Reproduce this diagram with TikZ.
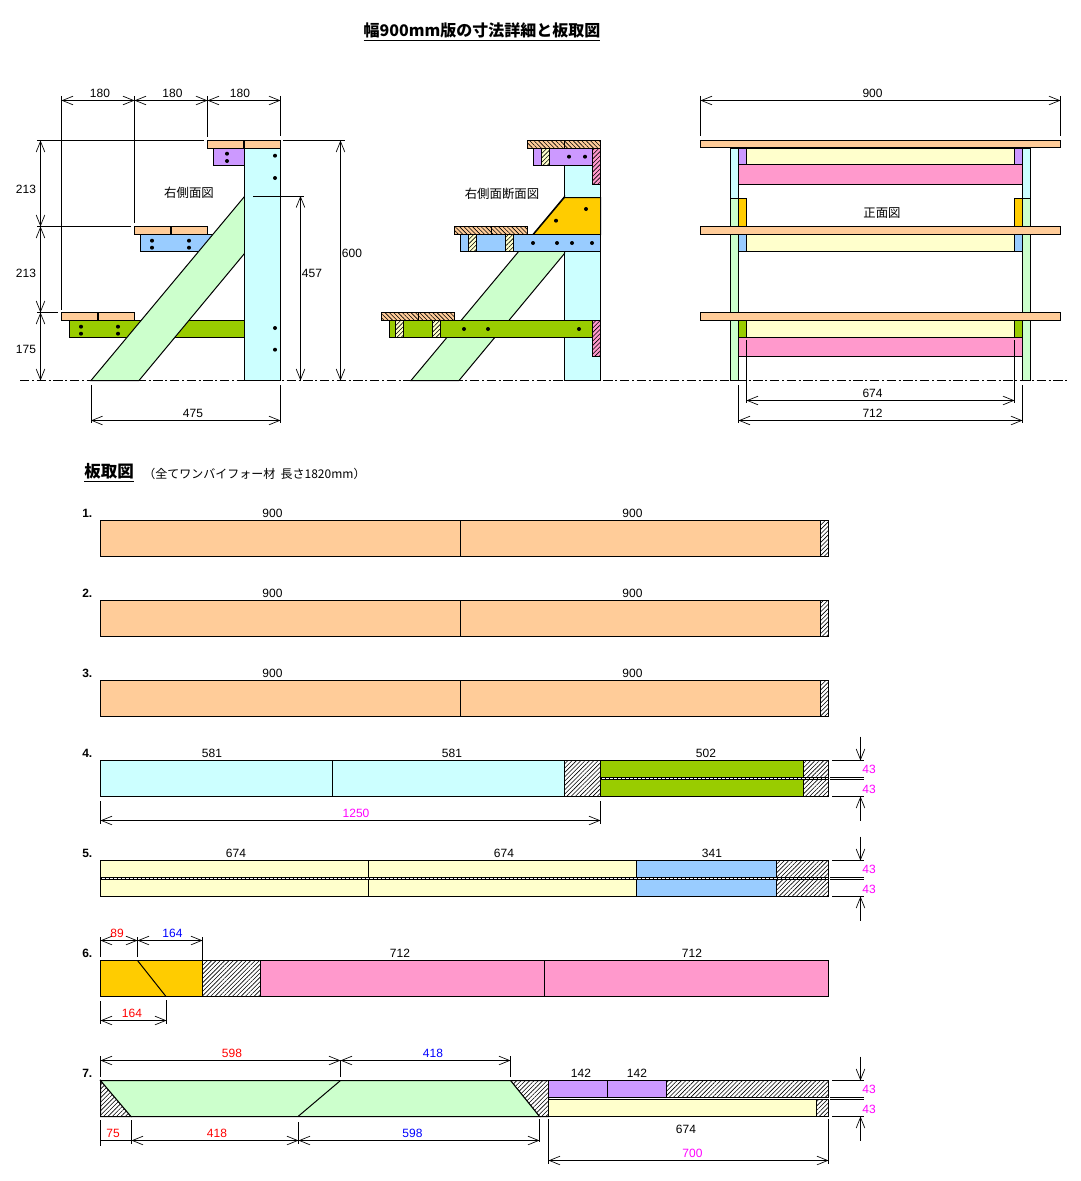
\documentclass[tikz,border=0pt]{standalone}
\usepackage{fontspec}
\setmainfont{Liberation Sans}
\newfontfamily\jpfont{Noto Sans CJK JP}
\usetikzlibrary{arrows.meta,patterns.meta}
\definecolor{woodtread}{HTML}{FFCC99}
\definecolor{woodpost}{HTML}{CCFFFF}
\definecolor{woodstring}{HTML}{CCFFCC}
\definecolor{woodtop}{HTML}{CC99FF}
\definecolor{woodmid}{HTML}{99CCFF}
\definecolor{woodlow}{HTML}{99CC00}
\definecolor{woodback}{HTML}{FF99CC}
\definecolor{woodslat}{HTML}{FFFFCC}
\definecolor{woodgusset}{HTML}{FFCC00}
\definecolor{dimmagenta}{HTML}{FF00FF}
\definecolor{dimred}{HTML}{FF0000}
\definecolor{dimblue}{HTML}{0000FF}
\tikzset{
	dimline/.style={line width=0.75pt, {Straight Barb[length=8pt,width=6.5pt,line width=0.5pt]}-{Straight Barb[length=8pt,width=6.5pt,line width=0.5pt]}},
	dimend/.style={line width=0.75pt, -{Straight Barb[length=8pt,width=6.5pt,line width=0.5pt]}},
	extline/.style={line width=0.75pt},
	centerline/.style={line width=0.75pt, dash pattern=on 7pt off 2pt on 1.5pt off 2pt},
	part/.style={draw=black, line width=0.75pt},
	waste/.style={draw=black, line width=0.75pt, fill=white, postaction={pattern={Lines[angle=45,distance=2.3pt,line width=0.45pt]}}},
	cuttread/.style={draw=black, line width=0.75pt, fill=woodtread, postaction={pattern={Lines[angle=-45,distance=2.3pt,line width=0.45pt]}}},
	cutslat/.style={draw=black, line width=0.75pt, fill=woodslat, postaction={pattern={Lines[angle=45,distance=2.3pt,line width=0.45pt]}}},
	cutback/.style={draw=black, line width=0.75pt, fill=woodback, postaction={pattern={Lines[angle=45,distance=2.3pt,line width=0.45pt]}}},
	num/.style={inner sep=0pt, font=\fontsize{9}{10}\selectfont},
	jplabel/.style={inner sep=0pt, font=\jpfont\fontsize{9.3}{10}\selectfont},
	rowno/.style={inner sep=0pt, anchor=west, font=\bfseries\fontsize{9}{10}\selectfont},
}
\def\bolt(#1,#2){\fill (#1,#2) circle (1.5pt);}
\def\kerf(#1,#2,#3){\draw[part, fill=white] (#1,#2) rectangle (#3,#2+2);\draw[line width=0.75pt, dash pattern=on 0.75pt off 2.25pt] (#1,#2+1) -- (#3,#2+1);}
\def\thickdim(#1,#2){%
	\draw[extline] (832,#1) -- (864,#1);
	\draw[extline] (830,#1+17) -- (864,#1+17);
	\draw[extline] (830,#1+19) -- (864,#1+19);
	\draw[extline] (832,#1+36) -- (864,#1+36);
	\draw[dimend] (860.5,#1-24) -- (860.5,#1);
	\draw[dimend] (860.5,#2) -- (860.5,#1+36);
	\node[num, text=dimmagenta] (up#1) at (869,#1+9) {43};
	\node[num, text=dimmagenta] (lo#1) at (869,#1+29) {43};
}

\begin{document}
\begin{tikzpicture}[x=0.75pt, y=-0.75pt]
	%%%%% START %%%%%
	\useasboundingbox (0,0) rectangle (1081,1181);
	
	\node[inner sep=0pt, font=\jpfont\bfseries\fontsize{12}{14}\selectfont] (title) at (482,32) {\underline{幅900mm版の寸法詳細と板取図}};
	
	\draw[centerline] (20,380.5) -- (1069,380.5);
	
	% right side view
	\draw[part, fill=woodlow] (69,320.5) rectangle (244.5,337.5);
	\draw[part, fill=woodmid] (140.5,234.5) rectangle (215,251.5);
	\draw[part, fill=woodtop] (213.5,148.5) rectangle (244.5,165.5);
	\draw[part, fill=woodstring] (91,380.5) -- (244.5,196.5) -- (244.5,253.5) -- (139,380.5) -- cycle;
	\draw[part, fill=woodpost] (244.5,148.5) rectangle (280.5,380.5);
	\draw[part, fill=woodtread] (207.5,140.5) rectangle (280.5,148.5);
	\draw[line width=1.5pt] (244,140.5) -- (244,148.5);
	\draw[part, fill=woodtread] (134.5,226.5) rectangle (207.5,234.5);
	\draw[line width=1.5pt] (171,226.5) -- (171,234.5);
	\draw[part, fill=woodtread] (61.5,312.5) rectangle (134.5,320.5);
	\draw[line width=1.5pt] (98,312.5) -- (98,320.5);
	
	\bolt(275,155.7) \bolt(275,178) \bolt(275,328) \bolt(275,349.7)
	\bolt(227,153.7) \bolt(227,161)
	\bolt(152,240.7) \bolt(152,247.7) \bolt(189,240.7) \bolt(189,247.7)
	\bolt(81,326.7) \bolt(81,333.7) \bolt(118,326.7) \bolt(118,333.7)
	
	\node[jplabel] (sidelabel) at (189,193) {右側面図};
	
	\draw[extline] (61.5,96) -- (61.5,310);
	\draw[extline] (134.5,96) -- (134.5,223);
	\draw[extline] (207.5,96) -- (207.5,137);
	\draw[extline] (280.5,96) -- (280.5,136);
	\draw[dimline] (61.5,100.5) -- (134.5,100.5);
	\draw[dimline] (134.5,100.5) -- (207.5,100.5);
	\draw[dimline] (207.5,100.5) -- (280.5,100.5);
	\node[num] (wa) at (100,93.5) {180};
	\node[num] (wb) at (172.5,93.5) {180};
	\node[num] (wc) at (240,93.5) {180};
	
	\draw[extline] (37,140.5) -- (204,140.5);
	\draw[extline] (283,140.5) -- (345,140.5);
	\draw[extline] (37,226.5) -- (131,226.5);
	\draw[extline] (37,312.5) -- (58,312.5);
	\draw[dimline] (40.5,140.5) -- (40.5,226.5);
	\draw[dimline] (40.5,226.5) -- (40.5,312.5);
	\draw[dimline] (40.5,312.5) -- (40.5,380.5);
	\node[num] (ha) at (26,189.5) {213};
	\node[num] (hb) at (26,273.5) {213};
	\node[num] (hc) at (26,349.5) {175};
	
	\draw[extline] (253,196) -- (304,196);
	\draw[dimline] (300.5,196) -- (300.5,380.5);
	\node[num] (hd) at (312,273.5) {457};
	\draw[dimline] (340.5,140.5) -- (340.5,380.5);
	\node[num] (he) at (352,253.5) {600};
	
	\draw[extline] (91,385) -- (91,423);
	\draw[extline] (280.5,385) -- (280.5,423);
	\draw[dimline] (91,420.5) -- (280.5,420.5);
	\node[num] (wd) at (193,413.5) {475};
	
	% right side section
	\draw[part, fill=woodpost] (564.5,165.5) rectangle (600.5,380.5);
	\draw[part, fill=woodstring] (411,380.5) -- (564.5,196.5) -- (564.5,253.5) -- (459,380.5) -- cycle;
	\draw[part, fill=woodgusset] (564.5,197.5) -- (600.5,197.5) -- (600.5,234.5) -- (533.5,234.5) -- cycle;
	\draw[part, fill=woodtop] (533.5,148.5) rectangle (592.5,165.5);
	\draw[cutslat] (541.5,148.5) rectangle (549.5,165.5);
	\draw[cutback] (592.5,148.5) rectangle (600.5,184.5);
	\draw[part, fill=woodmid] (460.5,234.5) rectangle (600.5,251.5);
	\draw[cutslat] (468.5,234.5) rectangle (476.5,251.5);
	\draw[cutslat] (505.5,234.5) rectangle (513.5,251.5);
	\draw[part, fill=woodlow] (389.5,320.5) rectangle (592.5,337.5);
	\draw[cutslat] (395.5,320.5) rectangle (403.5,337.5);
	\draw[cutslat] (432.5,320.5) rectangle (440.5,337.5);
	\draw[cutback] (592.5,320.5) rectangle (600.5,356.5);
	\draw[cuttread] (527.5,140.5) rectangle (564,148.5);
	\draw[cuttread] (564,140.5) rectangle (600.5,148.5);
	\draw[cuttread] (454.5,226.5) rectangle (491,234.5);
	\draw[cuttread] (491,226.5) rectangle (527.5,234.5);
	\draw[cuttread] (381.5,312.5) rectangle (418,320.5);
	\draw[cuttread] (418,312.5) rectangle (454.5,320.5);
	
	\bolt(569,156.7) \bolt(585,156.7)
	\bolt(586,209) \bolt(556,220.7)
	\bolt(533,243) \bolt(557,243) \bolt(572,243) \bolt(592,243)
	\bolt(464,329) \bolt(488,329) \bolt(579,329)
	
	\node[jplabel] (seclabel) at (502,193.5) {右側面断面図};
	
	% front view
	\draw[part, fill=woodpost] (730.5,148.5) rectangle (738.5,198.5);
	\draw[part, fill=woodstring] (730.5,198.5) rectangle (738.5,380.5);
	\draw[part, fill=woodpost] (1022.5,148.5) rectangle (1030.5,198.5);
	\draw[part, fill=woodstring] (1022.5,198.5) rectangle (1030.5,380.5);
	\draw[part, fill=woodslat] (746.5,148.5) rectangle (1014.5,164.5);
	\draw[part, fill=woodtop] (738.5,148.5) rectangle (746.5,164.5);
	\draw[part, fill=woodtop] (1014.5,148.5) rectangle (1022.5,164.5);
	\draw[part, fill=woodback] (738.5,164.5) rectangle (1022.5,184.5);
	\draw[part, fill=woodgusset] (738.5,198.5) rectangle (746.5,226.5);
	\draw[part, fill=woodgusset] (1014.5,198.5) rectangle (1022.5,226.5);
	\draw[part, fill=woodslat] (746.5,234.5) rectangle (1014.5,251.5);
	\draw[part, fill=woodmid] (738.5,234.5) rectangle (746.5,251.5);
	\draw[part, fill=woodmid] (1014.5,234.5) rectangle (1022.5,251.5);
	\draw[part, fill=woodslat] (746.5,320.5) rectangle (1014.5,337.5);
	\draw[part, fill=woodlow] (738.5,320.5) rectangle (746.5,337.5);
	\draw[part, fill=woodlow] (1014.5,320.5) rectangle (1022.5,337.5);
	\draw[part, fill=woodback] (738.5,337.5) rectangle (1022.5,356.5);
	\draw[part, fill=woodtread] (700.5,140) rectangle (1060.5,147.5);
	\draw[part, fill=woodtread] (700.5,226.5) rectangle (1060.5,234.5);
	\draw[part, fill=woodtread] (700.5,312.5) rectangle (1060.5,320.5);
	
	\node[jplabel] (frontlabel) at (882,213.5) {正面図};
	
	\draw[extline] (700.5,96) -- (700.5,136);
	\draw[extline] (1060.5,96) -- (1060.5,136);
	\draw[dimline] (700.5,100.5) -- (1060.5,100.5);
	\node[num] (wf) at (872.5,93.5) {900};
	\draw[extline] (746.5,340) -- (746.5,403);
	\draw[extline] (1014.5,340) -- (1014.5,403);
	\draw[dimline] (746.5,400.5) -- (1014.5,400.5);
	\node[num] (wg) at (872.5,393.5) {674};
	\draw[extline] (738.5,385) -- (738.5,423);
	\draw[extline] (1022.5,385) -- (1022.5,423);
	\draw[dimline] (738.5,420.5) -- (1022.5,420.5);
	\node[num] (wh) at (872.5,413.5) {712};
	
	% cutting list
	\node[inner sep=0pt, anchor=west, font=\jpfont\bfseries\fontsize{12.4}{14}\selectfont] (cuthead) at (84,473) {\underline{板取図}};
	\node[inner sep=0pt, anchor=west, font=\jpfont\fontsize{9}{10}\selectfont] (cutnote) at (143,474) {（全てワンバイフォー材\ \ 長さ1820mm）};
	
	% boards 1 to 3
	\node[rowno] (noa) at (82,513.5) {1.};
	\draw[part, fill=woodtread] (100.5,520.5) rectangle (460.5,556.5);
	\draw[part, fill=woodtread] (460.5,520.5) rectangle (820.5,556.5);
	\draw[waste] (820.5,520.5) rectangle (828.5,556.5);
	\node[num] (aa) at (272.5,513.5) {900};
	\node[num] (ab) at (632.5,513.5) {900};
	
	\node[rowno] (nob) at (82,593.5) {2.};
	\draw[part, fill=woodtread] (100.5,600.5) rectangle (460.5,636.5);
	\draw[part, fill=woodtread] (460.5,600.5) rectangle (820.5,636.5);
	\draw[waste] (820.5,600.5) rectangle (828.5,636.5);
	\node[num] (ba) at (272.5,593.5) {900};
	\node[num] (bb) at (632.5,593.5) {900};
	
	\node[rowno] (noc) at (82,673.5) {3.};
	\draw[part, fill=woodtread] (100.5,680.5) rectangle (460.5,716.5);
	\draw[part, fill=woodtread] (460.5,680.5) rectangle (820.5,716.5);
	\draw[waste] (820.5,680.5) rectangle (828.5,716.5);
	\node[num] (ca) at (272.5,673.5) {900};
	\node[num] (cb) at (632.5,673.5) {900};
	
	% board 4
	\node[rowno] (nod) at (82,753.5) {4.};
	\draw[part, fill=woodpost] (100.5,760.5) rectangle (332.5,796.5);
	\draw[part, fill=woodpost] (332.5,760.5) rectangle (564.5,796.5);
	\draw[waste] (564.5,760.5) rectangle (600.5,796.5);
	\draw[part, fill=woodlow] (600.5,760.5) rectangle (803.5,796.5);
	\draw[waste] (803.5,760.5) rectangle (828.5,796.5);
	\kerf(600.5,777.5,828.5)
	\node[num] (da) at (212,753.5) {581};
	\node[num] (db) at (452,753.5) {581};
	\node[num] (dc) at (706,753.5) {502};
	\draw[extline] (100.5,801) -- (100.5,824);
	\draw[extline] (600.5,801) -- (600.5,824);
	\draw[dimline] (100.5,820.5) -- (600.5,820.5);
	\node[num, text=dimmagenta] (dd) at (356,813.5) {1250};
	\thickdim(760.5,820.5)
	
	% board 5
	\node[rowno] (noe) at (82,853.5) {5.};
	\draw[part, fill=woodslat] (100.5,860.5) rectangle (368.5,896.5);
	\draw[part, fill=woodslat] (368.5,860.5) rectangle (636.5,896.5);
	\draw[part, fill=woodmid] (636.5,860.5) rectangle (776.5,896.5);
	\draw[waste] (776.5,860.5) rectangle (828.5,896.5);
	\kerf(100.5,877.5,828.5)
	\node[num] (ea) at (236,853.5) {674};
	\node[num] (eb) at (504,853.5) {674};
	\node[num] (ec) at (712,853.5) {341};
	\thickdim(860.5,920.5)
	
	% board 6
	\node[rowno] (nof) at (82,953.5) {6.};
	\draw[part, fill=woodgusset] (100.5,960.5) rectangle (202.5,996.5);
	\draw[part] (137.5,960.5) -- (166,996.5);
	\draw[waste] (202.5,960.5) rectangle (260.5,996.5);
	\draw[part, fill=woodback] (260.5,960.5) rectangle (544.5,996.5);
	\draw[part, fill=woodback] (544.5,960.5) rectangle (828.5,996.5);
	\node[num] (fa) at (400,953.5) {712};
	\node[num] (fb) at (692,953.5) {712};
	\draw[extline] (100.5,937) -- (100.5,957);
	\draw[extline] (137.5,937) -- (137.5,957);
	\draw[extline] (202.5,937) -- (202.5,960);
	\draw[dimline] (100.5,940.5) -- (137.5,940.5);
	\draw[dimline] (137.5,940.5) -- (202.5,940.5);
	\node[num, text=dimred] (fc) at (117,933.5) {89};
	\node[num, text=dimblue] (fd) at (172.5,933.5) {164};
	\draw[extline] (100.5,1001) -- (100.5,1024);
	\draw[extline] (166.5,1000) -- (166.5,1024);
	\draw[dimline] (100.5,1020.5) -- (166.5,1020.5);
	\node[num, text=dimred] (fe) at (132,1013.5) {164};
	
	% board 7
	\node[rowno] (nog) at (82,1073.5) {7.};
	\draw[waste] (100.5,1080.5) -- (131,1116.5) -- (100.5,1116.5) -- cycle;
	\draw[waste] (510.5,1080.5) -- (548.5,1080.5) -- (548.5,1116.5) -- (539.5,1116.5) -- cycle;
	\draw[part, fill=woodstring] (100.5,1080.5) -- (510.5,1080.5) -- (539.5,1116.5) -- (131,1116.5) -- cycle;
	\draw[part] (340.5,1080.5) -- (298,1116.5);
	\draw[part, fill=woodtop] (548.5,1080.5) rectangle (607.5,1097.5);
	\draw[part, fill=woodtop] (607.5,1080.5) rectangle (666.5,1097.5);
	\draw[waste] (666.5,1080.5) rectangle (828.5,1097.5);
	\draw[part, fill=woodslat] (548.5,1099.5) rectangle (816.5,1116.5);
	\draw[waste] (816.5,1099.5) rectangle (828.5,1116.5);
	\node[num] (ga) at (581,1073.5) {142};
	\node[num] (gb) at (637,1073.5) {142};
	\node[num] (gc) at (686,1129.5) {674};
	\draw[extline] (100.5,1056) -- (100.5,1077);
	\draw[extline] (340.5,1060) -- (340.5,1077);
	\draw[extline] (510.5,1056) -- (510.5,1077);
	\draw[dimline] (100.5,1060.5) -- (340.5,1060.5);
	\draw[dimline] (340.5,1060.5) -- (510.5,1060.5);
	\node[num, text=dimred] (gd) at (232,1053.5) {598};
	\node[num, text=dimblue] (ge) at (433,1053.5) {418};
	\draw[extline] (100.5,1120) -- (100.5,1146);
	\draw[extline] (131.5,1120) -- (131.5,1144);
	\draw[extline] (298.5,1122) -- (298.5,1144);
	\draw[extline] (539.5,1119) -- (539.5,1142);
	\draw[extline] (100.5,1140.5) -- (131.5,1140.5);
	\draw[dimline] (131.5,1140.5) -- (298.5,1140.5);
	\draw[dimline] (298.5,1140.5) -- (539.5,1140.5);
	\node[num, text=dimred] (gf) at (113,1133.5) {75};
	\node[num, text=dimred] (gg) at (217,1133.5) {418};
	\node[num, text=dimblue] (gh) at (412.5,1133.5) {598};
	\draw[extline] (548.5,1119) -- (548.5,1164);
	\draw[extline] (828.5,1119) -- (828.5,1164);
	\draw[dimline] (548.5,1160.5) -- (828.5,1160.5);
	\node[num, text=dimmagenta] (gi) at (692.5,1153.5) {700};
	\thickdim(1080.5,1140.5)
	
	%%%%% END %%%%%
\end{tikzpicture}
\end{document}
